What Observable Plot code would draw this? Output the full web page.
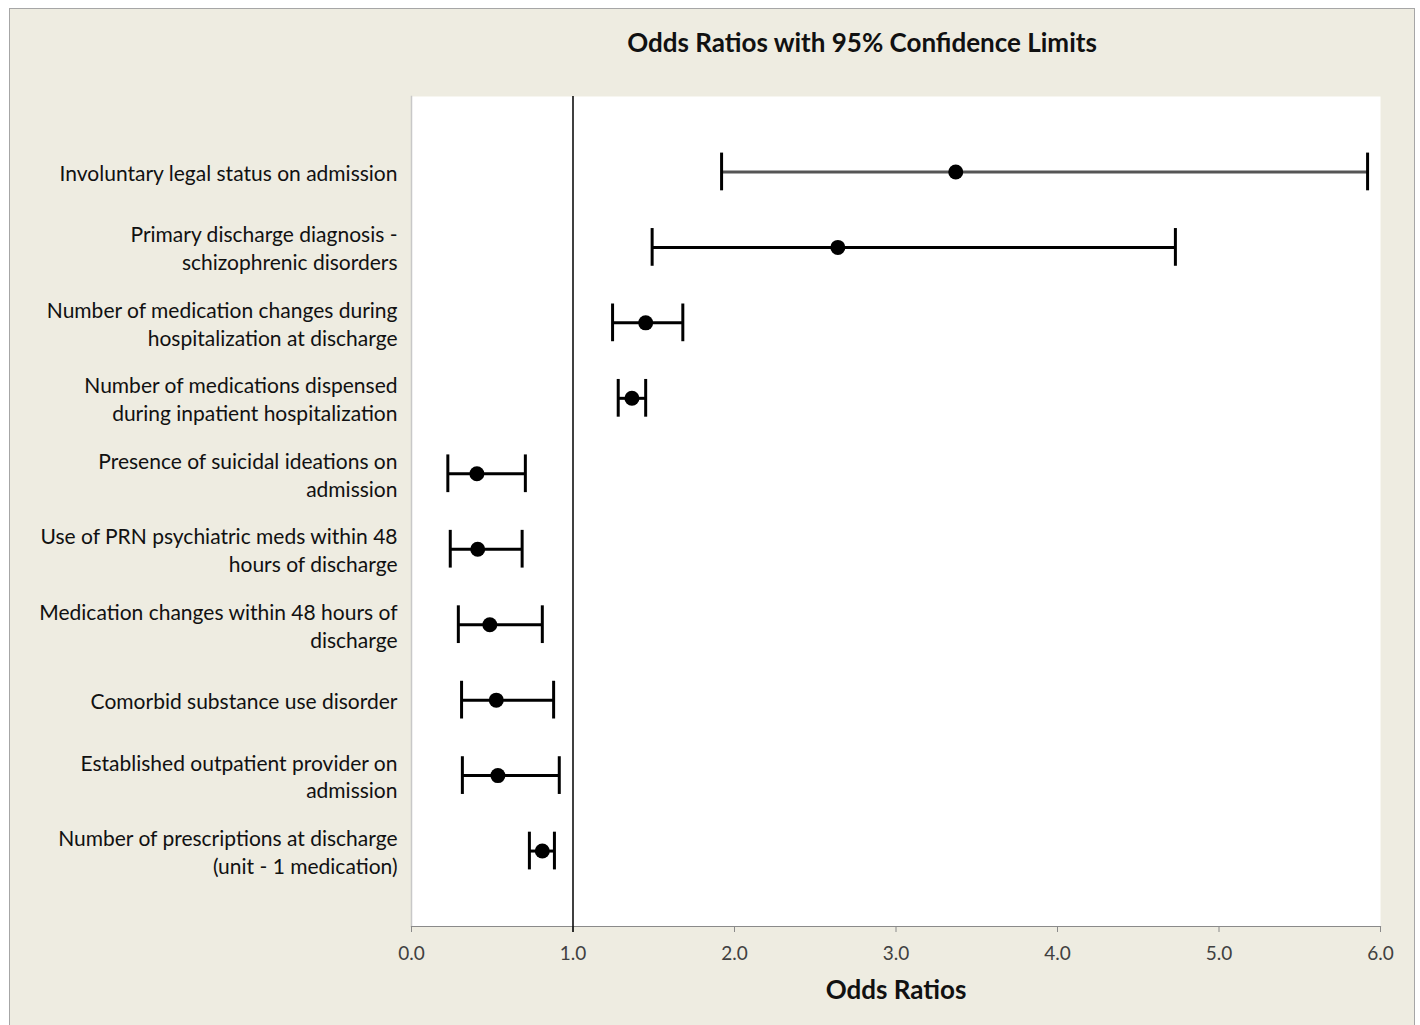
<!DOCTYPE html>
<html>
<head>
<meta charset="utf-8">
<script src="https://cdn.jsdelivr.net/npm/d3@7"></script>
<script src="https://cdn.jsdelivr.net/npm/@observablehq/plot@0.6"></script>
<style>
  body { margin: 0; background: #ffffff; font-family: Lato, "Open Sans", sans-serif; }
  #frame { position: absolute; left: 9px; top: 8px; width: 1406px; height: 1030px; background: #eeece1; border: 1px solid #a6a6a6; box-sizing: border-box; }
  #title { position: absolute; left: 462px; top: 0; width: 800px; height: 60px; line-height: 84px; text-align: center; font-size: 26px; font-weight: bold; color: #111; }
  #chart { position: absolute; left: 0; top: 60px; }
</style>
</head>
<body>
<div id="frame"></div>
<div id="title">Odds Ratios with 95% Confidence Limits</div>
<div id="chart"></div>
<script>
const categories = [
  "Involuntary legal status on admission",
  "Primary discharge diagnosis -\nschizophrenic disorders",
  "Number of medication changes during\nhospitalization at discharge",
  "Number of medications dispensed\nduring inpatient hospitalization",
  "Presence of suicidal ideations on\nadmission",
  "Use of PRN psychiatric meds within 48\nhours of discharge",
  "Medication changes within 48 hours of\ndischarge",
  "Comorbid substance use disorder",
  "Established outpatient provider on\nadmission",
  "Number of prescriptions at discharge\n(unit - 1 medication)"
];
const oddsRatio = [3.37, 2.64, 1.45, 1.365, 0.405, 0.41, 0.485, 0.525, 0.535, 0.81];
const lowerCL   = [1.92, 1.49, 1.245, 1.28, 0.225, 0.24, 0.29, 0.31, 0.315, 0.73];
const upperCL   = [5.92, 4.73, 1.68, 1.45, 0.705, 0.685, 0.81, 0.88, 0.915, 0.885];
const xTicks = [0, 1, 2, 3, 4, 5, 6];
const xTitle = "Odds Ratios";

const rows = categories.map((label, i) => ({label, or: oddsRatio[i], lo: lowerCL[i], hi: upperCL[i]}));

const chart = Plot.plot({
  width: 1420,
  height: 965,
  marginTop: 36,
  marginBottom: 99,
  marginLeft: 411,
  marginRight: 40,
  style: {background: "transparent", fontFamily: "Lato, 'Open Sans', sans-serif", fontSize: "17px", color: "#111"},
  x: {domain: [0, 6]},
  y: {domain: categories, type: "band", paddingInner: 0.5, paddingOuter: 0.75, round: false},
  marks: [
    Plot.frame({fill: "white", stroke: null}),
    Plot.frame({anchor: "left", stroke: "#c8c8c8", strokeWidth: 1.5}),
    Plot.axisX({ticks: xTicks, tickFormat: d => d.toFixed(1), tickSize: 6, tickPadding: 14, stroke: "#8a8a8a", fill: "#404040", fontSize: 19, label: null}),
    Plot.frame({anchor: "bottom", stroke: "#8a8a8a", strokeWidth: 1.2}),
    Plot.axisY({tickSize: 0, tickPadding: 14, label: null, fontSize: 21, lineHeight: 1.33, fill: "#111"}),
    Plot.text([xTitle], {frameAnchor: "bottom", lineAnchor: "middle", dy: 64, fontSize: 26, fontWeight: "bold", fill: "#111"}),
    Plot.ruleX([1], {stroke: "black", strokeWidth: 1.5, insetBottom: -6}),
    Plot.ruleY(rows, {filter: d => d.label === categories[0], y: "label", x1: "lo", x2: "hi", stroke: "#555", strokeWidth: 3}),
    Plot.ruleY(rows, {filter: d => d.label !== categories[0], y: "label", x1: "lo", x2: "hi", stroke: "black", strokeWidth: 3}),
    Plot.tickX(rows, {x: "lo", y: "label", stroke: "black", strokeWidth: 3}),
    Plot.tickX(rows, {x: "hi", y: "label", stroke: "black", strokeWidth: 3}),
    Plot.dot(rows, {x: "or", y: "label", r: 7.5, fill: "black", stroke: null})
  ]
});
document.getElementById("chart").appendChild(chart);
</script>
</body>
</html>
